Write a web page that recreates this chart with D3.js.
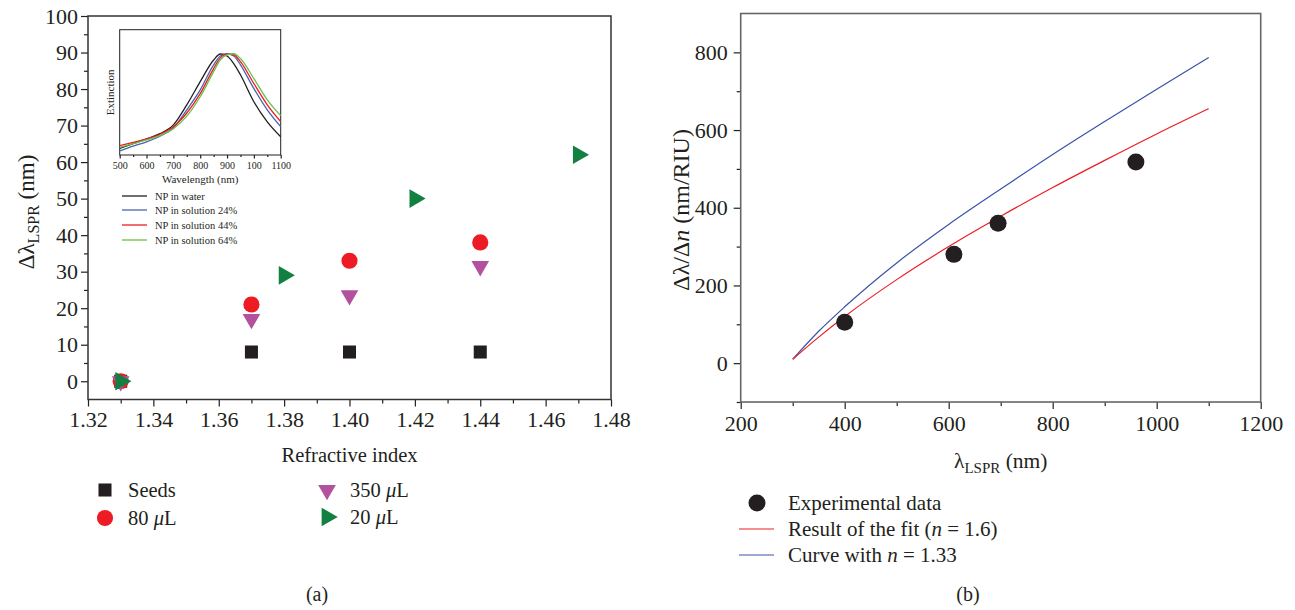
<!DOCTYPE html>
<html>
<head>
<meta charset="utf-8">
<script src="https://cdn.jsdelivr.net/npm/d3@7"></script>
<style>
  body { margin: 0; background: #fff; }
  svg text { font-family: "Liberation Serif", "DejaVu Serif", serif; fill: #231f20; }
</style>
</head>
<body>
<svg id="chart" width="1295" height="610" font-family="Liberation Serif"></svg>
<script>
// ---- panel (a): shift vs refractive index ----
const seedsN = [1.33, 1.37, 1.40, 1.44];
const seedsShift = [0, 8, 8, 8];
const ul80N = [1.33, 1.37, 1.40, 1.44];
const ul80Shift = [0, 21, 33, 38];
const ul350N = [1.33, 1.37, 1.40, 1.44];
const ul350Shift = [0, 17, 23.5, 31.5];
const ul20N = [1.33, 1.38, 1.42, 1.47];
const ul20Shift = [0, 29, 50, 62];

// inset spectra (normalised extinction)
const wavelengths = [500, 550, 600, 650, 700, 750, 800, 850, 875, 900, 925, 950, 1000, 1050, 1100];
const extWater = [0.053, 0.09, 0.128, 0.17, 0.24, 0.40, 0.585, 0.758, 0.806, 0.79, 0.73, 0.64, 0.425, 0.265, 0.146];
const ext24 = [0.032, 0.07, 0.105, 0.15, 0.215, 0.36, 0.52, 0.72, 0.79, 0.808, 0.79, 0.72, 0.53, 0.36, 0.226];
const ext44 = [0.074, 0.10, 0.128, 0.165, 0.225, 0.335, 0.49, 0.69, 0.775, 0.805, 0.80, 0.745, 0.57, 0.40, 0.266];
const ext64 = [0.061, 0.09, 0.12, 0.155, 0.21, 0.31, 0.465, 0.665, 0.76, 0.80, 0.808, 0.77, 0.61, 0.44, 0.314];
const insetTickLabels = ["500", "600", "700", "800", "900", "100", "1100"];

// ---- panel (b): sensitivity vs LSPR wavelength ----
const expLambda = [400, 610, 695, 960];
const expSens = [105, 280, 360, 518];
const curveLambda = [300, 350, 400, 500, 600, 700, 800, 900, 1000, 1100];
const fitN16 = [10, 67, 120, 215, 300, 378, 452, 522, 590, 655];
const curveN133 = [10, 82, 145, 258, 357, 448, 537, 622, 705, 787];

const ink = "#231f20";
const serif = "Liberation Serif";
const svg = d3.select("#chart");

function styleAxis(g, size) {
  g.attr("font-family", null).attr("font-size", null);
  g.select(".domain").remove();
  g.selectAll("line").attr("stroke", ink).attr("stroke-width", 1.2);
  g.selectAll("text").style("font-size", size + "px").style("font-family", serif).attr("fill", ink);
}

// ================= panel (a) =================
const xa = d3.scaleLinear().domain([1.32, 1.48]).range([88, 611]);
const ya = d3.scaleLinear().domain([-5, 100]).range([399.5, 16]);

svg.append("g").attr("transform", "translate(0,399.5)")
  .call(d3.axisBottom(xa).tickValues(d3.range(0, 8).map(i => 1.33 + i * 0.02)).tickSize(4).tickFormat(""))
  .call(g => styleAxis(g, 22));
svg.append("g").attr("transform", "translate(0,399.5)")
  .call(d3.axisBottom(xa).tickValues(d3.range(0, 9).map(i => 1.32 + i * 0.02)).tickSize(7).tickPadding(5).tickFormat(d3.format(".2f")))
  .call(g => styleAxis(g, 22));
svg.append("g").attr("transform", "translate(88,0)")
  .call(d3.axisLeft(ya).tickValues(d3.range(5, 100, 10)).tickSize(4).tickFormat(""))
  .call(g => styleAxis(g, 22));
svg.append("g").attr("transform", "translate(88,0)")
  .call(d3.axisLeft(ya).tickValues(d3.range(0, 101, 10)).tickSize(7).tickPadding(3))
  .call(g => styleAxis(g, 22));

svg.append("rect")
  .attr("x", xa(1.32)).attr("y", ya(100))
  .attr("width", xa(1.48) - xa(1.32)).attr("height", ya(-5) - ya(100))
  .attr("fill", "none").attr("stroke", "#333").attr("stroke-width", 1.5);

svg.append("text").attr("x", (xa(1.32) + xa(1.48)) / 2).attr("y", 462)
  .attr("text-anchor", "middle").style("font-size", "20.5px").text("Refractive index");

const yLabA = svg.append("text").attr("transform", "translate(34,212) rotate(-90)")
  .attr("text-anchor", "middle").style("font-size", "23px");
yLabA.append("tspan").text("Δλ");
yLabA.append("tspan").attr("dy", 5).style("font-size", "16px").text("LSPR");
yLabA.append("tspan").attr("dy", -5).text(" (nm)");

// inset
const xi = d3.scaleLinear().domain([500, 1100]).range([119.7, 280.7]);
const yi = d3.scaleLinear().domain([0, 1]).range([155, 29.7]);

svg.append("rect").attr("x", xi(500)).attr("y", yi(1))
  .attr("width", xi(1100) - xi(500)).attr("height", yi(0) - yi(1))
  .attr("fill", "#fff").attr("stroke", ink).attr("stroke-width", 1);

svg.append("g").attr("transform", `translate(0,${yi(0)})`)
  .call(d3.axisBottom(xi).tickValues(d3.range(550, 1100, 100)).tickSize(2).tickFormat(""))
  .call(g => styleAxis(g, 9.5));
svg.append("g").attr("transform", `translate(0,${yi(0)})`)
  .call(d3.axisBottom(xi).tickValues(d3.range(500, 1101, 100)).tickSize(3.5).tickPadding(3)
    .tickFormat((d, i) => insetTickLabels[i]))
  .call(g => styleAxis(g, 10));

svg.append("text").attr("x", (xi(500) + xi(1100)) / 2).attr("y", 183)
  .attr("text-anchor", "middle").style("font-size", "11px").text("Wavelength (nm)");
svg.append("text").attr("transform", `translate(114,${(yi(0) + yi(1)) / 2}) rotate(-90)`)
  .attr("text-anchor", "middle").style("font-size", "11px").text("Extinction");

const spectra = [
  { name: "NP in water", vals: extWater, color: "#231f20" },
  { name: "NP in solution 24%", vals: ext24, color: "#4a63b0" },
  { name: "NP in solution 44%", vals: ext44, color: "#ed1c24" },
  { name: "NP in solution 64%", vals: ext64, color: "#6cbf4a" }
];
const specLine = d3.line().x((d, i) => xi(wavelengths[i])).y(d => yi(d)).curve(d3.curveMonotoneX);
svg.append("g").selectAll("path").data(spectra).join("path")
  .attr("d", d => specLine(d.vals))
  .attr("fill", "none").attr("stroke", d => d.color).attr("stroke-width", 1.3);

const insetLegY = [196, 210, 225, 240];
const insetLeg = svg.append("g").selectAll("g").data(spectra).join("g")
  .attr("transform", (d, i) => `translate(0,${insetLegY[i]})`);
insetLeg.append("line").attr("x1", 122).attr("x2", 147)
  .attr("stroke", d => d.color).attr("stroke-width", 1.3);
insetLeg.append("text").attr("x", 155).attr("y", 3.5).style("font-size", "10.5px").text(d => d.name);

// markers
const sym = (type, size) => d3.symbol().type(type).size(size)();
const seriesA = [
  { n: seedsN, v: seedsShift, path: sym(d3.symbolSquare, 170), rot: 0, color: "#231f20" },
  { n: ul80N, v: ul80Shift, path: sym(d3.symbolCircle, 205), rot: 0, color: "#ed1c24" },
  { n: ul350N, v: ul350Shift, path: sym(d3.symbolTriangle, 135), rot: 180, color: "#b3519f" },
  { n: ul20N, v: ul20Shift, path: sym(d3.symbolTriangle, 150), rot: 90, color: "#128040" }
];
seriesA.forEach(s => {
  svg.append("g").selectAll("path").data(s.n).join("path")
    .attr("d", s.path)
    .attr("transform", (d, i) => `translate(${xa(d)},${ya(s.v[i])}) rotate(${s.rot})`)
    .attr("fill", s.color);
});

const legA = [
  { label: "Seeds", x: 105, y: 490, s: seriesA[0] },
  { label: "80 ", x: 105, y: 518, s: seriesA[1], mu: true },
  { label: "350 ", x: 327, y: 490, s: seriesA[2], mu: true },
  { label: "20 ", x: 327, y: 517, s: seriesA[3], mu: true }
];
legA.forEach(d => {
  svg.append("path").attr("d", d.s.path)
    .attr("transform", `translate(${d.x},${d.y}) rotate(${d.s.rot})`).attr("fill", d.s.color);
  const t = svg.append("text").attr("x", d.x + 23).attr("y", d.y + 7).style("font-size", "20.5px");
  t.append("tspan").text(d.label);
  if (d.mu) {
    t.append("tspan").style("font-style", "italic").text("μ");
    t.append("tspan").text("L");
  }
});

svg.append("text").attr("x", 317).attr("y", 601).attr("text-anchor", "middle")
  .style("font-size", "20px").text("(a)");

// ================= panel (b) =================
const xb = d3.scaleLinear().domain([200, 1200]).range([740.7, 1260.7]);
const yb = d3.scaleLinear().domain([-100, 900]).range([402, 13.5]);

svg.append("g").attr("transform", "translate(0,402)")
  .call(d3.axisBottom(xb).tickValues(d3.range(300, 1200, 200)).tickSize(4).tickFormat(""))
  .call(g => styleAxis(g, 22));
svg.append("g").attr("transform", "translate(0,402)")
  .call(d3.axisBottom(xb).tickValues(d3.range(200, 1201, 200)).tickSize(7).tickPadding(6).tickFormat(d3.format("d")))
  .call(g => styleAxis(g, 22));
svg.append("g").attr("transform", "translate(740.7,0)")
  .call(d3.axisLeft(yb).tickValues(d3.range(-100, 900, 200)).tickSize(4).tickFormat(""))
  .call(g => styleAxis(g, 22));
svg.append("g").attr("transform", "translate(740.7,0)")
  .call(d3.axisLeft(yb).tickValues(d3.range(0, 801, 200)).tickSize(7).tickPadding(6).tickFormat(d3.format("d")))
  .call(g => styleAxis(g, 22));

svg.append("rect")
  .attr("x", xb(200)).attr("y", yb(900))
  .attr("width", xb(1200) - xb(200)).attr("height", yb(-100) - yb(900))
  .attr("fill", "none").attr("stroke", "#666").attr("stroke-width", 1.6);

const curveLine = d3.line().x((d, i) => xb(curveLambda[i])).y(d => yb(d)).curve(d3.curveMonotoneX);
svg.append("path").attr("d", curveLine(curveN133))
  .attr("fill", "none").attr("stroke", "#3a53a4").attr("stroke-width", 1.2);
svg.append("path").attr("d", curveLine(fitN16))
  .attr("fill", "none").attr("stroke", "#ed1c24").attr("stroke-width", 1.2);

svg.append("g").selectAll("circle").data(expLambda).join("circle")
  .attr("cx", d => xb(d)).attr("cy", (d, i) => yb(expSens[i]))
  .attr("r", 8.5).attr("fill", ink);

const xLabB = svg.append("text").attr("x", (xb(200) + xb(1200)) / 2).attr("y", 468)
  .attr("text-anchor", "middle").style("font-size", "21.5px");
xLabB.append("tspan").text("λ");
xLabB.append("tspan").attr("dy", 5).style("font-size", "15px").text("LSPR");
xLabB.append("tspan").attr("dy", -5).text(" (nm)");

const yLabB = svg.append("text").attr("transform", "translate(689,210) rotate(-90)")
  .attr("text-anchor", "middle").style("font-size", "24px");
yLabB.append("tspan").text("Δλ/Δ");
yLabB.append("tspan").style("font-style", "italic").text("n");
yLabB.append("tspan").text(" (nm/RIU)");

// legend (b)
svg.append("circle").attr("cx", 757).attr("cy", 503).attr("r", 8.5).attr("fill", ink);
svg.append("line").attr("x1", 739).attr("x2", 774).attr("y1", 529).attr("y2", 529)
  .attr("stroke", "#ed1c24").attr("stroke-width", 1.2);
svg.append("line").attr("x1", 739).attr("x2", 774).attr("y1", 555).attr("y2", 555)
  .attr("stroke", "#3a53a4").attr("stroke-width", 1.2);

const lb1 = svg.append("text").attr("x", 788).attr("y", 510).style("font-size", "21px");
lb1.text("Experimental data");
const lb2 = svg.append("text").attr("x", 788).attr("y", 536).style("font-size", "21px");
lb2.append("tspan").text("Result of the fit (");
lb2.append("tspan").style("font-style", "italic").text("n");
lb2.append("tspan").text(" = 1.6)");
const lb3 = svg.append("text").attr("x", 788).attr("y", 562).style("font-size", "21px");
lb3.append("tspan").text("Curve with ");
lb3.append("tspan").style("font-style", "italic").text("n");
lb3.append("tspan").text(" = 1.33");

svg.append("text").attr("x", 968).attr("y", 601).attr("text-anchor", "middle")
  .style("font-size", "20px").text("(b)");
</script>
</body>
</html>
